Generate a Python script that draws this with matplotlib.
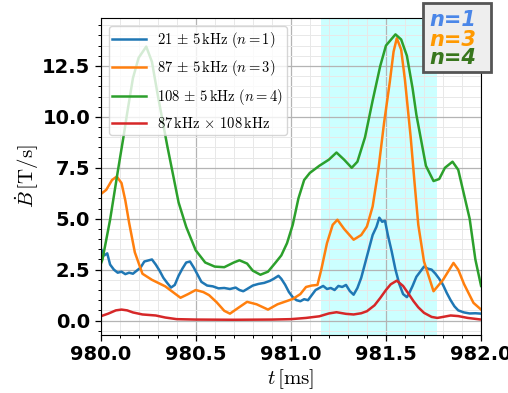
import matplotlib
matplotlib.use('Agg')
import matplotlib.pyplot as plt
from matplotlib.patches import Rectangle
from matplotlib.ticker import MultipleLocator

plt.rcParams['mathtext.fontset'] = 'cm'

# 21 +- 5 kHz (n=1)
t_n1 = [980.0, 980.02, 980.035, 980.05, 980.07, 980.09, 980.11, 980.13, 980.15, 980.17,
        980.19, 980.21, 980.23, 980.25, 980.27, 980.29, 980.31, 980.33, 980.35, 980.37,
        980.39, 980.41, 980.43, 980.45, 980.47, 980.49, 980.51, 980.53, 980.56, 980.59,
        980.62, 980.65, 980.68, 980.71, 980.73, 980.75, 980.77, 980.80, 980.83, 980.86,
        980.89, 980.91, 980.935, 980.95, 980.97, 980.99, 981.01, 981.03, 981.05, 981.07,
        981.09, 981.11, 981.13, 981.15, 981.17, 981.19, 981.21, 981.23, 981.25, 981.27,
        981.29, 981.31, 981.33, 981.35, 981.37, 981.39, 981.41, 981.43, 981.45, 981.465,
        981.48, 981.495, 981.51, 981.53, 981.55, 981.57, 981.59, 981.61, 981.62, 981.64,
        981.66, 981.68, 981.70, 981.72, 981.74, 981.76, 981.78, 981.80, 981.82, 981.84,
        981.86, 981.88, 981.91, 981.94, 981.97, 982.0]
b_n1 = [3.56, 3.2, 3.3, 2.75, 2.5, 2.35, 2.4, 2.28, 2.35, 2.3,
        2.45, 2.6, 2.9, 2.95, 3.0, 2.75, 2.45, 2.1, 1.85, 1.62,
        1.75, 2.2, 2.55, 2.85, 2.9, 2.6, 2.25, 1.9, 1.72, 1.68,
        1.58, 1.6, 1.55, 1.62, 1.5, 1.44, 1.55, 1.72, 1.8, 1.85,
        1.95, 2.05, 2.2, 2.05, 1.76, 1.4, 1.15, 1.0, 0.95, 1.05,
        1.0, 1.25, 1.5, 1.6, 1.7, 1.55, 1.6, 1.5, 1.7, 1.65,
        1.75, 1.45, 1.27, 1.6, 2.1, 2.8, 3.5, 4.2, 4.6, 5.05,
        4.85, 4.9, 4.2, 3.4, 2.5, 1.8, 1.3, 1.15, 1.3, 1.7,
        2.15, 2.4, 2.65, 2.55, 2.5, 2.3, 2.05, 1.75, 1.35, 1.0,
        0.7, 0.5, 0.4, 0.35, 0.36, 0.34]

# 87 +- 5 kHz (n=3)
t_n3 = [980.0, 980.03, 980.06, 980.085, 980.11, 980.13, 980.15, 980.18, 980.22, 980.27,
        980.34, 980.38, 980.42, 980.46, 980.50, 980.54, 980.57, 980.61, 980.65, 980.68,
        980.72, 980.77, 980.82, 980.88, 980.93, 981.01, 981.05, 981.08, 981.11, 981.14,
        981.16, 981.19, 981.22, 981.245, 981.28, 981.33, 981.37, 981.40, 981.43, 981.46,
        981.49, 981.52, 981.54, 981.557, 981.58, 981.60, 981.63, 981.65, 981.67, 981.70,
        981.75, 981.80, 981.855, 981.88, 981.91, 981.96, 982.0]
b_n3 = [6.2, 6.42, 6.9, 7.07, 6.75, 5.9, 4.8, 3.35, 2.3, 2.0,
        1.68, 1.4, 1.12, 1.3, 1.5, 1.4, 1.25, 0.9, 0.48, 0.34,
        0.6, 0.92, 0.8, 0.54, 0.8, 1.06, 1.3, 1.65, 1.72, 1.75,
        2.5, 3.8, 4.7, 4.95, 4.5, 3.97, 4.2, 4.62, 5.6, 7.4,
        9.7, 11.7, 13.2, 13.86, 13.3, 11.8, 9.0, 6.8, 4.7, 2.9,
        1.44, 2.0, 2.83, 2.5, 1.8, 0.87, 0.54]

# 108 +- 5 kHz (n=4)
t_n4 = [980.0, 980.01, 980.05, 980.09, 980.12, 980.14, 980.17, 980.20, 980.24, 980.27,
        980.30, 980.32, 980.35, 980.38, 980.41, 980.45, 980.50, 980.55, 980.60, 980.65,
        980.70, 980.73, 980.77, 980.80, 980.84, 980.88, 980.92, 980.95, 980.98, 981.01,
        981.04, 981.07, 981.10, 981.15, 981.20, 981.24, 981.28, 981.32, 981.35, 981.39,
        981.43, 981.47, 981.50, 981.55, 981.58, 981.61, 981.64, 981.66, 981.69, 981.71,
        981.75, 981.78, 981.81, 981.85, 981.88, 981.91, 981.94, 981.97, 982.0]
b_n4 = [2.75, 3.0, 4.95, 7.3, 9.0, 10.2, 11.9, 12.9, 13.45, 12.7,
        11.1, 10.1, 8.6, 7.2, 5.8, 4.6, 3.45, 2.85, 2.65, 2.62,
        2.85, 2.96, 2.8, 2.45, 2.25, 2.4, 2.85, 3.2, 3.8, 4.7,
        6.0, 6.9, 7.25, 7.6, 7.9, 8.25, 7.9, 7.5, 7.8, 9.0,
        10.8, 12.5, 13.5, 14.05, 13.8, 13.0, 11.4, 10.1, 8.6, 7.6,
        6.85, 6.95, 7.5, 7.8, 7.4, 6.2, 5.0, 3.0, 1.7]

# 87 kHz x 108 kHz
t_x = [980.0, 980.04, 980.08, 980.11, 980.14, 980.17, 980.22, 980.29, 980.34, 980.40,
       980.50, 980.70, 980.90, 981.0, 981.08, 981.15, 981.20, 981.24, 981.29, 981.33,
       981.37, 981.40, 981.44, 981.47, 981.50, 981.525, 981.557, 981.59, 981.62, 981.645,
       981.67, 981.70, 981.74, 981.77, 981.80, 981.84, 981.88, 981.93, 982.0]
b_x = [0.21, 0.34, 0.5, 0.54, 0.5, 0.4, 0.3, 0.25, 0.15, 0.07,
       0.05, 0.04, 0.05, 0.07, 0.13, 0.21, 0.35, 0.41, 0.33, 0.3,
       0.36, 0.46, 0.75, 1.11, 1.5, 1.78, 1.96, 1.7, 1.3, 0.95,
       0.65, 0.38, 0.18, 0.13, 0.18, 0.25, 0.22, 0.13, 0.05]

labels = [r'$21\,\pm\,5\,\mathrm{kHz}\ (n=1)$',
          r'$87\,\pm\,5\,\mathrm{kHz}\ (n=3)$',
          r'$108\,\pm\,5\,\mathrm{kHz}\ (n=4)$',
          r'$87\,\mathrm{kHz}\,\times\,108\,\mathrm{kHz}$']
span = (981.16, 981.77)

fig = plt.figure(figsize=(5.08, 3.93), dpi=100)
ax = fig.add_axes([0.198, 0.148, 0.749, 0.806])

ax.axvspan(span[0], span[1], color='cyan', alpha=0.2, lw=0)
ax.plot(t_n1, b_n1, color='C0', lw=1.8, label=labels[0])
ax.plot(t_n3, b_n3, color='C1', lw=1.8, label=labels[1])
ax.plot(t_n4, b_n4, color='C2', lw=1.8, label=labels[2])
ax.plot(t_x, b_x, color='C3', lw=1.8, label=labels[3])

ax.set_xlim(980.0, 982.0)
ax.set_ylim(-0.7, 14.85)
ax.xaxis.set_major_locator(MultipleLocator(0.5))
ax.xaxis.set_minor_locator(MultipleLocator(0.1))
ax.yaxis.set_major_locator(MultipleLocator(2.5))
ax.yaxis.set_minor_locator(MultipleLocator(0.5))
ax.grid(which='major', color='#b4b4b4', lw=0.9)
ax.grid(which='minor', color='#e8e8e8', lw=0.7)
ax.tick_params(which='major', length=4, width=0.9, labelsize=14)
ax.tick_params(which='minor', length=2, width=0.7)
for lab in ax.get_xticklabels() + ax.get_yticklabels():
    lab.set_fontweight('bold')

ax.set_xlabel(r'$t\,[\mathrm{ms}]$', fontsize=15, labelpad=2)
ax.set_ylabel(r'$\dot{B}\,[\mathrm{T/s}]$', fontsize=15, labelpad=1)

ax.legend(loc='upper left', fontsize=10.5, labelspacing=0.6, handlelength=2.3,
          borderpad=0.25, borderaxespad=0.55, framealpha=0.8)

# mode-number box in the top right corner
fig.patches.append(Rectangle((423 / 508, 1 - 72 / 393), 68 / 508, 69 / 393,
                             transform=fig.transFigure, facecolor='#eeeeee',
                             edgecolor='#555555', lw=2, zorder=5))
box_txt = [('n=1', '#4a86e8', 26.5), ('n=3', '#ff9900', 45.5), ('n=4', '#38761d', 64.5)]
for s, c, yb in box_txt:
    fig.text(429 / 508, 1 - yb / 393, s, color=c, fontsize=15, fontweight='bold',
             fontstyle='italic', va='baseline', ha='left', zorder=6)

fig.savefig('out.png', dpi=100)
